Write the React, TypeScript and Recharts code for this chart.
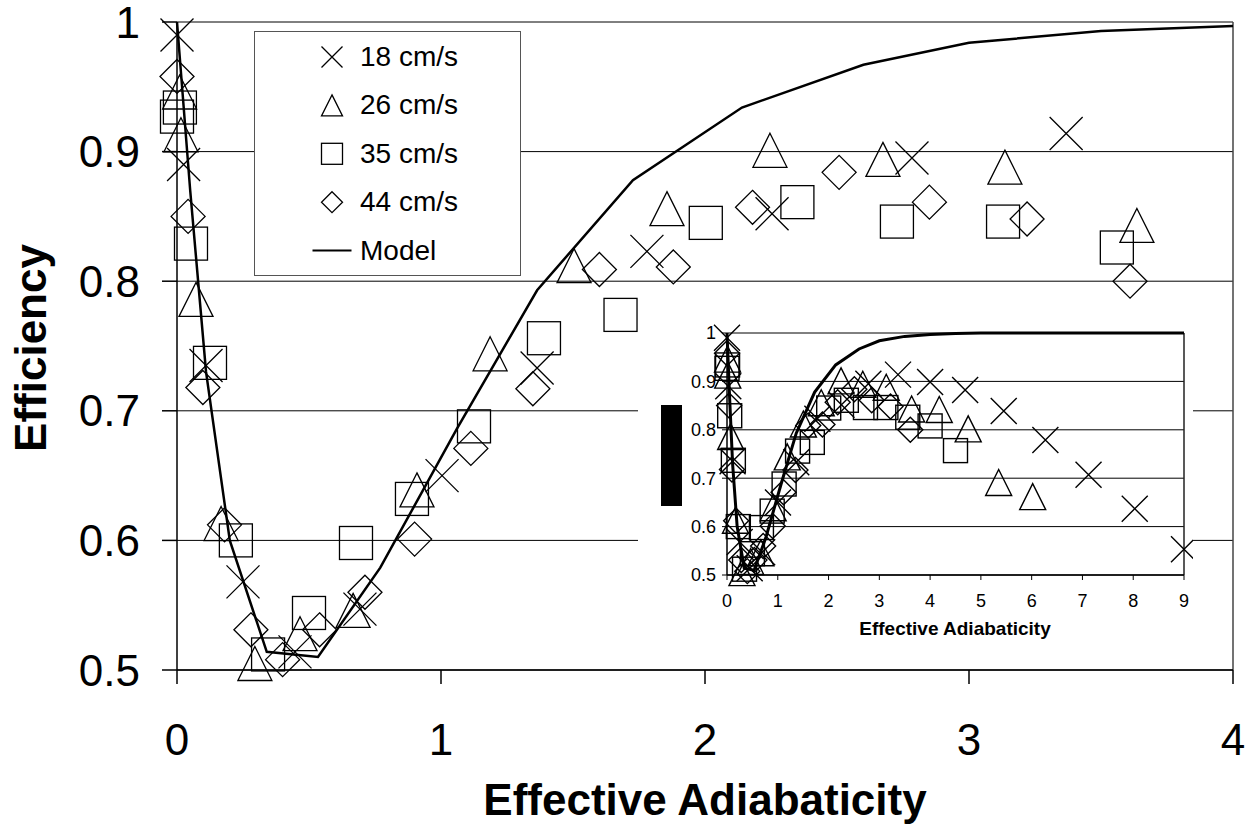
import React from 'react';
import { ComposedChart, Scatter, Line, XAxis, YAxis, CartesianGrid, ReferenceLine, Legend } from 'recharts';

const FONT = '"Liberation Sans", Arial, sans-serif';

// measured efficiency vs effective adiabaticity, [x, y]
const v18: [number, number][] = [
  [0, 0.99], [0.025, 0.89], [0.11, 0.735], [0.25, 0.568], [0.447, 0.514], [0.693, 0.547],
  [1.004, 0.65], [1.364, 0.733], [1.78, 0.823], [2.254, 0.852], [2.784, 0.895], [3.368, 0.914],
];
const v26: [number, number][] = [
  [0.01, 0.946], [0.015, 0.913], [0.072, 0.786], [0.167, 0.613], [0.295, 0.505], [0.466, 0.528],
  [0.667, 0.546], [0.909, 0.639], [1.186, 0.744], [1.504, 0.812], [1.856, 0.856], [2.246, 0.901],
  [2.674, 0.894], [3.136, 0.888], [3.636, 0.843],
];
const v35: [number, number][] = [
  [0.011, 0.934], [0, 0.927], [0.053, 0.829], [0.125, 0.737], [0.223, 0.6], [0.345, 0.512],
  [0.5, 0.544], [0.678, 0.598], [0.89, 0.632], [1.125, 0.688], [1.39, 0.756], [1.68, 0.774],
  [2.003, 0.845], [2.35, 0.861], [2.727, 0.846], [3.129, 0.846], [3.56, 0.826],
];
const v44: [number, number][] = [
  [0, 0.958], [0.042, 0.85], [0.098, 0.718], [0.18, 0.612], [0.28, 0.531], [0.4, 0.508],
  [0.54, 0.531], [0.712, 0.56], [0.9, 0.601], [1.113, 0.671], [1.348, 0.717], [1.6, 0.809],
  [1.88, 0.811], [2.18, 0.857], [2.508, 0.884], [2.85, 0.861], [3.22, 0.848], [3.61, 0.8],
];
// runs beyond adiabaticity 4, only in the small full-range plot
const v18Far: [number, number][] = [
  [4.0, 0.899], [4.69, 0.882], [5.45, 0.839], [6.27, 0.779], [7.12, 0.707], [8.03, 0.637], [9.0, 0.553],
];
const v26Far: [number, number][] = [[4.18, 0.842], [4.75, 0.802], [5.35, 0.691], [6.02, 0.662]];
const v35Far: [number, number][] = [[4.0, 0.808], [4.5, 0.757]];

const model: [number, number][] = [
  [0, 1.0], [0.05, 0.87], [0.11, 0.73], [0.2, 0.6], [0.34, 0.514], [0.534, 0.51], [0.77, 0.579],
  [1.06, 0.686], [1.364, 0.793], [1.727, 0.878], [2.14, 0.934], [2.6, 0.967], [3.0, 0.984],
  [3.5, 0.993], [4.0, 0.997],
];
const modelFar: [number, number][] = [[4.5, 0.999], [5, 1.0], [9, 1.0]];

const xTicks = [0, 1, 2, 3, 4];
const xTicksInset = [0, 1, 2, 3, 4, 5, 6, 7, 8, 9];
const yTicks = [0.5, 0.6, 0.7, 0.8, 0.9, 1];

const legendItems = [
  { label: '18 cm/s', kind: 'x' },
  { label: '26 cm/s', kind: 'tri' },
  { label: '35 cm/s', kind: 'sq' },
  { label: '44 cm/s', kind: 'dia' },
  { label: 'Model', kind: 'line' },
];

const pts = (arr: [number, number][]) => arr.map(([x, y]) => ({ x, y }));

// hollow Excel-style markers
const drawMark = (kind: string, cx: number, cy: number, h: number, sw: number) => {
  const common = { fill: 'none', stroke: '#000', strokeWidth: sw };
  switch (kind) {
    case 'x':
      return <path d={`M${cx - h},${cy - h}L${cx + h},${cy + h}M${cx - h},${cy + h}L${cx + h},${cy - h}`} {...common} />;
    case 'tri':
      return <path d={`M${cx},${cy - h}L${cx + h},${cy + h}L${cx - h},${cy + h}Z`} {...common} />;
    case 'sq':
      return <rect x={cx - h} y={cy - h} width={2 * h} height={2 * h} {...common} />;
    case 'dia':
      return <path d={`M${cx},${cy - h}L${cx + h},${cy}L${cx},${cy + h}L${cx - h},${cy}Z`} {...common} />;
    default:
      return <line x1={cx - h} x2={cx + h} y1={cy} y2={cy} stroke="#000" strokeWidth={2} />;
  }
};

const shape = (kind: string, h: number, sw: number) => (p: any) => drawMark(kind, p.cx, p.cy, h, sw);

const renderLegend = () => (
  <div style={{ width: 267, height: 245, boxSizing: 'border-box', border: '1.5px solid #555', background: '#fff' }}>
    <svg width={264} height={242} style={{ display: 'block' }}>
      {legendItems.map((it, i) => {
        const cy = 25 + i * 48.4;
        return (
          <g key={it.label}>
            {drawMark(it.kind, 77, cy, it.kind === 'line' ? 19.5 : 10.5, 1.3)}
            <text x={105} y={cy + 9} fontSize={28} fontFamily={FONT} fill="#000">{it.label}</text>
          </g>
        );
      })}
    </svg>
  </div>
);

export default function App() {
  return (
    <div style={{ position: 'absolute', left: 0, top: 0, width: 1253, height: 827, background: '#fff' }}>
      <ComposedChart width={1253} height={827} margin={{ top: 22, right: 20, left: 97, bottom: 97 }}>
        <CartesianGrid vertical={false} stroke="#000" strokeWidth={1} />
        <XAxis
          type="number"
          dataKey="x"
          domain={[0, 4]}
          ticks={xTicks}
          interval={0}
          height={60}
          tickSize={14}
          tickMargin={40}
          axisLine={{ stroke: '#000', strokeWidth: 1.5 }}
          tickLine={{ stroke: '#000', strokeWidth: 1.5 }}
          tick={{ fontSize: 44, fill: '#000', fontFamily: FONT }}
        />
        <YAxis
          type="number"
          dataKey="y"
          domain={[0.5, 1]}
          ticks={yTicks}
          interval={0}
          width={80}
          tickSize={15}
          tickMargin={22}
          axisLine={{ stroke: '#000', strokeWidth: 1.5 }}
          tickLine={{ stroke: '#000', strokeWidth: 1.5 }}
          tick={{ fontSize: 44, fill: '#000', fontFamily: FONT }}
        />
        <ReferenceLine x={4} stroke="#444" strokeWidth={1.5} />
        <Scatter data={pts(v18)} dataKey="y" shape={shape('x', 16.5, 1.3)} isAnimationActive={false} />
        <Scatter data={pts(v26)} dataKey="y" shape={shape('tri', 17, 1.3)} isAnimationActive={false} />
        <Scatter data={pts(v35)} dataKey="y" shape={shape('sq', 16.5, 1.3)} isAnimationActive={false} />
        <Scatter data={pts(v44)} dataKey="y" shape={shape('dia', 17, 1.3)} isAnimationActive={false} />
        <Line data={pts(model)} dataKey="y" type="linear" stroke="#000" strokeWidth={2.5} dot={false} isAnimationActive={false} />
        <Legend
          layout="vertical"
          align="center"
          verticalAlign="middle"
          content={renderLegend}
          wrapperStyle={{ left: 254, top: 31, width: 267, height: 245 }}
        />
        <text x={46} y={348} transform="rotate(-90 46 348)" textAnchor="middle" fontSize={44} fontWeight="bold" fontFamily={FONT} fill="#000">
          Efficiency
        </text>
        <text x={705} y={815} textAnchor="middle" fontSize={44} fontWeight="bold" fontFamily={FONT} fill="#000">
          Effective Adiabaticity
        </text>
      </ComposedChart>

      {/* full-range inset */}
      <div style={{ position: 'absolute', left: 638, top: 300, width: 555, height: 360, background: '#fff' }}>
        <ComposedChart width={555} height={360} margin={{ top: 33, right: 9, left: 49, bottom: 55 }}>
          <CartesianGrid vertical={false} stroke="#000" strokeWidth={1} />
          <XAxis
            type="number"
            dataKey="x"
            domain={[0, 9]}
            ticks={xTicksInset}
            interval={0}
            height={30}
            tickSize={5}
            tickMargin={14}
            axisLine={{ stroke: '#000', strokeWidth: 1.5 }}
            tickLine={{ stroke: '#000' }}
            tick={{ fontSize: 18, fill: '#000', fontFamily: FONT }}
          />
          <YAxis
            type="number"
            dataKey="y"
            domain={[0.5, 1]}
            ticks={yTicks}
            interval={0}
            width={40}
            tickSize={5}
            tickMargin={6}
            axisLine={{ stroke: '#000', strokeWidth: 1.5 }}
            tickLine={{ stroke: '#000' }}
            tick={{ fontSize: 18, fill: '#000', fontFamily: FONT }}
          />
          <ReferenceLine x={9} stroke="#222" strokeWidth={1.5} />
          <Scatter data={pts([...v18, ...v18Far])} dataKey="y" shape={shape('x', 13, 1.4)} isAnimationActive={false} />
          <Scatter data={pts([...v26, ...v26Far])} dataKey="y" shape={shape('tri', 13, 1.4)} isAnimationActive={false} />
          <Scatter data={pts([...v35, ...v35Far])} dataKey="y" shape={shape('sq', 12, 1.4)} isAnimationActive={false} />
          <Scatter data={pts(v44)} dataKey="y" shape={shape('dia', 12.5, 1.4)} isAnimationActive={false} />
          <Line data={pts([...model, ...modelFar])} dataKey="y" type="linear" stroke="#000" strokeWidth={3} dot={false} isAnimationActive={false} />
          <rect x={23} y={105} width={21} height={101} fill="#000" />
          <text x={317} y={335} textAnchor="middle" fontSize={19} fontWeight="bold" fontFamily={FONT} fill="#000">
            Effective Adiabaticity
          </text>
        </ComposedChart>
      </div>
    </div>
  );
}
